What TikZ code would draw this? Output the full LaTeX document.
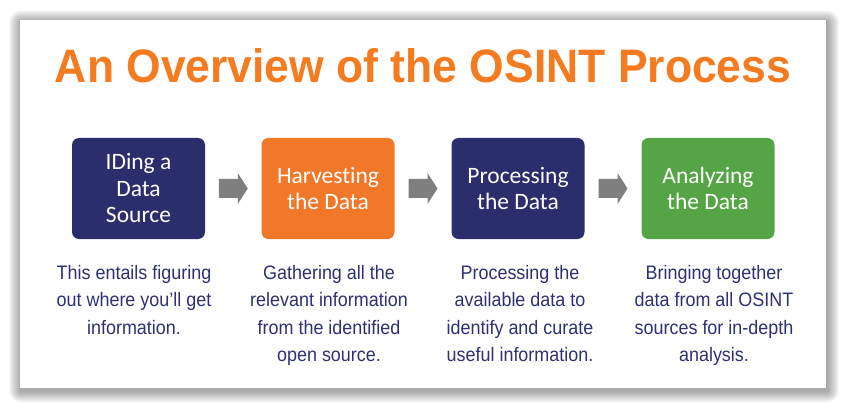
\documentclass[tikz,border=0pt]{standalone}
\usepackage{fontspec}
\setmainfont{Liberation Sans}
\newfontfamily\boxfont[RawFeature={-liga,-dlig,-clig}]{Carlito}
\newfontfamily\condfont[FakeStretch=0.92]{Liberation Sans}
\newfontfamily\titlefont{Liberation Sans}
\definecolor{navy}{HTML}{2B2E6C}
\definecolor{orng}{HTML}{F07828}
\definecolor{titleorange}{HTML}{F47B20}
\definecolor{grn}{HTML}{55A546}
\definecolor{descblue}{HTML}{2E3172}
\definecolor{arrowgray}{HTML}{7F7F7F}
\tikzset{
  stepbox/.style={rounded corners=7pt, minimum width=133pt, minimum height=101pt,
    text=white, align=center, inner sep=0pt, font=\boxfont\fontsize{23.5}{26.5}\selectfont},
  fatarrow/.style={fill=arrowgray, draw=none},
  desc/.style={text=descblue, align=center, inner sep=0pt, anchor=north,
    font=\condfont\fontsize{19.5}{27.5}\selectfont}
}
\begin{document}
\begin{tikzpicture}[x=1pt,y=-1pt]
\useasboundingbox (0,0) rectangle (844,409);
\fill[white] (0,0) rectangle (844,409);
% shadow
\foreach \i in {1,...,12}{
  \fill[black, opacity=0.033, rounded corners=\i pt] (20-\i+1,20-\i+2.5) rectangle (826+\i+1,388+\i+2.5);
}
\node[fill=white, minimum width=806pt, minimum height=368pt, inner sep=0pt] (card) at (423,204) {};
% title
\node[text=titleorange, inner sep=0pt, anchor=base] (title) at (423,83)
  {\resizebox{736pt}{34pt}{\titlefont\bfseries An Overview of the OSINT Process}};
% boxes
\node[stepbox, fill=navy] (b1) at (138.5,188.5) {IDing a\\Data\\Source};
\node[stepbox, fill=orng] (b2) at (328,188.5) {Harvesting\\the Data};
\node[stepbox, fill=navy] (b3) at (518,188.5) {Processing\\the Data};
\node[stepbox, fill=grn] (b4) at (708,188.5) {Analyzing\\the Data};
% arrows
\foreach \a/\b/\n in {b1/b2/m1, b2/b3/m2, b3/b4/m3}{
  \path (\a.east) -- (\b.west) coordinate[midway] (\n);
  \fill[fatarrow, shift={(\n)}] (-14.5,-9.5) -- (4.5,-9.5) -- (4.5,-15.5) -- (14.5,0)
     -- (4.5,15.5) -- (4.5,9.5) -- (-14.5,9.5) -- cycle;
}
% descriptions
\node[desc] (d1) at (134,265) {This entails figuring\\out where you’ll get\\information.};
\node[desc] (d2) at (329,265) {Gathering all the\\relevant information\\from the identified\\open source.};
\node[desc] (d3) at (520,265) {Processing the\\available data to\\identify and curate\\useful information.};
\node[desc] (d4) at (714,265) {Bringing together\\data from all OSINT\\sources for in-depth\\analysis.};
\end{tikzpicture}
\end{document}
